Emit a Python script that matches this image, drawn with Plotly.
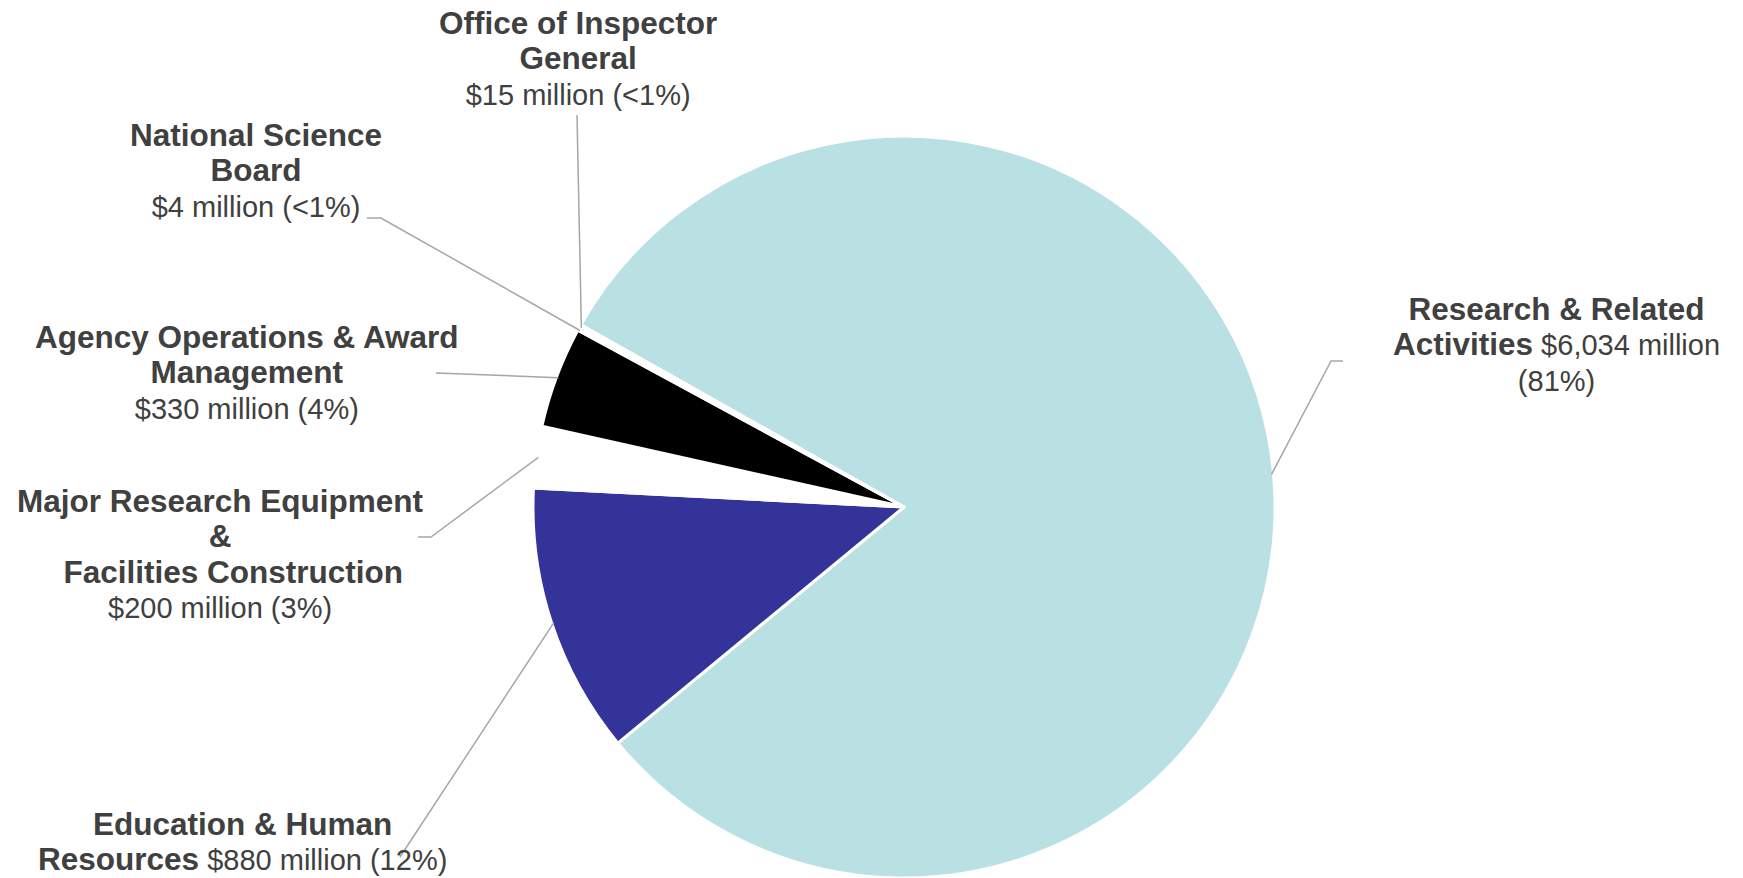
import math
import plotly.graph_objects as go

# ---- data ----
categories = [
    "Research & Related Activities",
    "Education & Human Resources",
    "Major Research Equipment & Facilities Construction",
    "Agency Operations & Award Management",
    "National Science Board",
    "Office of Inspector General",
]
values_musd = [6034, 880, 200, 330, 4, 15]
pct_labels = ["81%", "12%", "3%", "4%", "<1%", "<1%"]
slice_colors = ["#B9E0E3", "#333399", "#FFFFFF", "#000000", "#333399", "#FFFFFF"]

W, H = 1743, 878
TEXT = "#404040"
LEADER = "#A6A6A6"
BOLD_PX = 31.5
REG_PX = 29
BASE_PX = 27.3

# pie geometry (pixels)
CX, CY, R = 904, 507, 371
ROTATION = 299.4

def px_to_paper(x, y):
    return x / W, 1 - y / H

dom_x = [(CX - R) / W, (CX + R) / W]
dom_y = [1 - (CY + R) / H, 1 - (CY - R) / H]

fig = go.Figure(go.Pie(
    labels=categories,
    values=values_musd,
    sort=False,
    direction="clockwise",
    rotation=ROTATION,
    marker=dict(colors=slice_colors, line=dict(color="#FFFFFF", width=3)),
    textinfo="none",
    hoverinfo="label+value+percent",
    showlegend=False,
    domain=dict(x=dom_x, y=dom_y),
))

# mid angle of each slice (degrees clockwise from 12 o'clock), from the data
total = sum(values_musd)
mids = []
acc = ROTATION
for v in values_musd:
    span = 360.0 * v / total
    mids.append(acc + span / 2)
    acc += span

def edge_point(i, rr=R):
    a = math.radians(mids[i])
    return CX + rr * math.sin(a), CY - rr * math.cos(a)

def b(s):
    return f'<span style="font-size:{BOLD_PX}px"><b>{s}</b></span>'

def r(s):
    return f'<span style="font-size:{REG_PX}px">{s}</span>'

def money(i):
    return f"${values_musd[i]:,} million ({pct_labels[i]})".replace("<", "&lt;")

# label text, centre position (px) and leader elbow points (px)
labels = [
    (b("Research &amp; Related") + "<br>" + b("Activities") + r(" " + f"${values_musd[0]:,} million") + "<br>" + r(f"({pct_labels[0]})"),
     1556, 344, [(1331, 361), (1343, 361)]),
    (b("Education &amp; Human") + "<br>" + b("Resources") + r(" " + money(1)),
     243, 841, [(400, 857)]),
    (b("Major Research Equipment") + "<br>" + b("&amp;") + "<br>" + b("\u00a0\u00a0\u00a0Facilities Construction") + "<br>" + r(money(2)),
     220, 553, [(431, 537), (418, 537)]),
    (b("Agency Operations &amp; Award") + "<br>" + b("Management") + "<br>" + r(money(3)),
     247, 372, [(436, 373)]),
    (b("National Science") + "<br>" + b("Board") + "<br>" + r(money(4)),
     256, 170, [(381, 218), (367, 218)]),
    (b("Office of Inspector") + "<br>" + b("General") + "<br>" + r(money(5)),
     578, 58, [(577, 115)]),
]

annotations = []
shapes = []
for i, (txt, lx, ly, elbow) in enumerate(labels):
    ax, ay = px_to_paper(lx, ly)
    annotations.append(dict(
        text=txt, x=ax, y=ay, xref="paper", yref="paper",
        xanchor="center", yanchor="middle", align="center",
        showarrow=False, font=dict(family="Liberation Sans, Arial, sans-serif", size=BASE_PX, color=TEXT),
    ))
    pts = [edge_point(i, R - 2)] + elbow
    path = ""
    for k, (px, py) in enumerate(pts):
        qx, qy = px_to_paper(px, py)
        path += ("M" if k == 0 else "L") + f"{qx:.5f},{qy:.5f} "
    shapes.append(dict(type="path", path=path.strip(), xref="paper", yref="paper",
                       line=dict(color=LEADER, width=1.5)))

fig.update_layout(
    width=W, height=H,
    margin=dict(l=0, r=0, t=0, b=0),
    paper_bgcolor="#FFFFFF", plot_bgcolor="#FFFFFF",
    annotations=annotations, shapes=shapes,
    font=dict(family="Liberation Sans, Arial, sans-serif", color=TEXT),
)

fig.write_html("out.html", config={"displayModeBar": False},
               post_script="document.body.style.margin='0';document.body.style.overflow='hidden';")
